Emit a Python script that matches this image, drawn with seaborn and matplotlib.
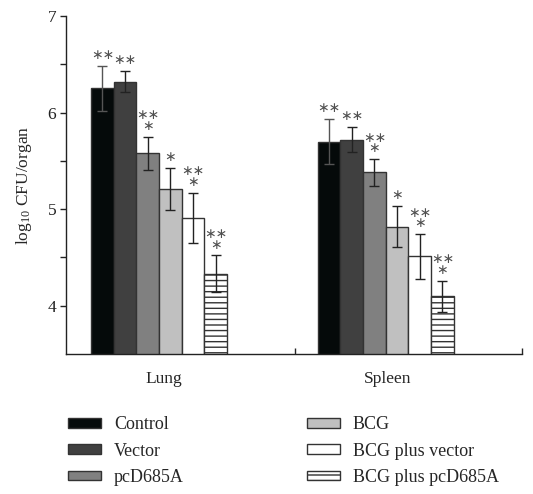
import matplotlib
matplotlib.use("Agg")
import matplotlib.pyplot as plt
import matplotlib.patches as mpatches
import seaborn as sns
import pandas as pd
import numpy as np

organs = ["Lung", "Spleen"]
groups = ["Control", "Vector", "pcD685A", "BCG", "BCG plus vector", "BCG plus pcD685A"]
lung_vals = [6.25, 6.32, 5.58, 5.21, 4.91, 4.33]
spleen_vals = [5.70, 5.72, 5.38, 4.82, 4.51, 4.10]
lung_err = [0.23, 0.11, 0.17, 0.22, 0.26, 0.19]
spleen_err = [0.23, 0.13, 0.14, 0.21, 0.23, 0.16]
lung_sig = ["**", "**", "**\n*", "*", "**\n*", "**\n*"]
spleen_sig = ["**", "**", "**\n*", "*", "**\n*", "**\n*"]
colors = ["#050a0a", "#404040", "#808080", "#c0c0c0", "#ffffff", "#ffffff"]
err_colors = ["#555555", "#222222", "#222222", "#222222", "#222222", "#222222"]
y_ticks = [4, 5, 6, 7]

sns.set_theme(style="ticks")
plt.rcParams["font.family"] = ["Liberation Serif", "DejaVu Serif"]
plt.rcParams["mathtext.fontset"] = "custom"
plt.rcParams["mathtext.rm"] = "Liberation Serif"
plt.rcParams["mathtext.it"] = "Liberation Serif:italic"
plt.rcParams["hatch.linewidth"] = 1.0
plt.rcParams["hatch.color"] = "#333333"

df = pd.DataFrame({
    "organ": np.repeat(organs, len(groups)),
    "group": groups * len(organs),
    "value": lung_vals + spleen_vals,
})
errs = {"Lung": lung_err, "Spleen": spleen_err}
sigs = {"Lung": lung_sig, "Spleen": spleen_sig}

fig = plt.figure(figsize=(5.33, 4.94), dpi=100)
ax = fig.add_axes([0.124, 0.2834, 0.855, 0.6842])

sns.barplot(data=df, x="organ", y="value", hue="group", order=organs,
            hue_order=groups, palette=colors, width=0.6, gap=0,
            edgecolor="#333333", linewidth=1.0, ax=ax, legend=False,
            errorbar=None, saturation=1)

bar_containers = list(ax.containers)
for gi, cont in enumerate(bar_containers):
    for oi, bar in enumerate(cont.patches):
        if gi == 5:
            bar.set_hatch("---")
        organ = organs[oi]
        x = bar.get_x() + bar.get_width() / 2
        h = bar.get_height() + bar.get_y()
        e = errs[organ][gi]
        ax.errorbar(x, h, yerr=e, fmt="none", ecolor=err_colors[gi],
                    elinewidth=1.0, capsize=3.6, capthick=1.0, zorder=5)
        label = "\n".join("\u2217" * len(t) for t in sigs[organ][gi].split("\n"))
        ax.text(x, h + e + 0.04, label, ha="center", va="bottom",
                fontsize=10, color="#505050", family="DejaVu Sans",
                linespacing=0.68, multialignment="center", zorder=6)

ax.set_ylim(3.5, 7)
ax.set_xlim(-0.41, 1.6)
ax.set_yticks(y_ticks)
ax.set_yticks([4.5, 5.5, 6.5], minor=True)
ax.tick_params(axis="y", which="both", direction="out", length=4, width=1,
               labelsize=12.5, colors="#222222", pad=3)
ax.set_xticks([0.02, 1.01])
ax.set_xticklabels(organs)
ax.set_xticks([0.6, 1.6], minor=True)
ax.tick_params(axis="x", which="major", length=0, labelsize=12.5, pad=12)
ax.tick_params(axis="x", which="minor", direction="in", length=4, width=1)
ax.set_xlabel("")
ax.set_ylabel("log$_{10}$ CFU/organ", fontsize=12.5, labelpad=10)
for s in ["top", "right"]:
    ax.spines[s].set_visible(False)
for s in ["left", "bottom"]:
    ax.spines[s].set_linewidth(1.0)
    ax.spines[s].set_color("#222222")

proxy = []
for i, g in enumerate(groups):
    p = mpatches.Patch(facecolor=colors[i], edgecolor="#333333", linewidth=1.0,
                       hatch="---" if i == 5 else None)
    proxy.append(p)
fig.legend(proxy, groups, ncol=2, loc="upper left",
           bbox_to_anchor=(0.114, 0.172), frameon=False, fontsize=13,
           handlelength=1.83, handleheight=0.45, handletextpad=0.72,
           labelspacing=0.52, columnspacing=6.8, borderaxespad=0)

fig.savefig("out.png", dpi=100)
